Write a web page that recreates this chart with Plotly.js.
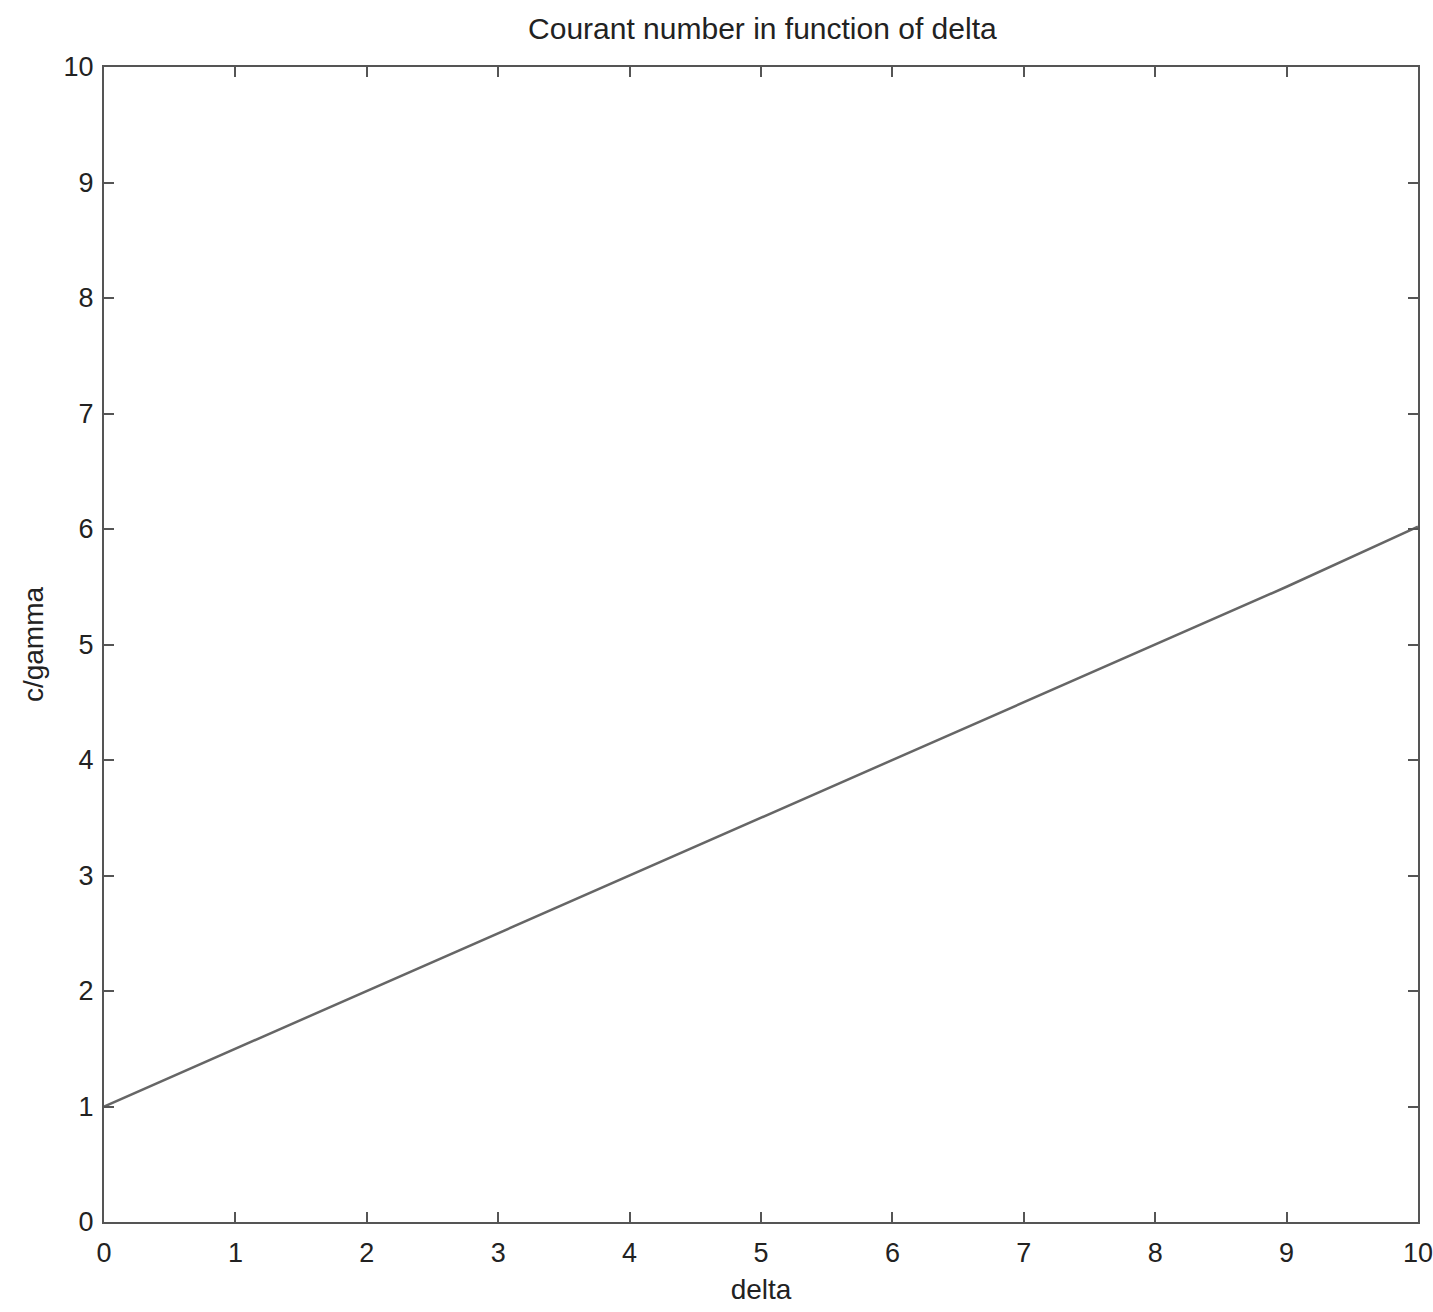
<!DOCTYPE html>
<html>
<head>
<meta charset="utf-8">
<script src="https://cdn.plot.ly/plotly-3.0.1.min.js"></script>
<style>html,body{margin:0;padding:0;background:#fff;overflow:hidden;}#chart{width:1433px;height:1312px;}</style>
</head>
<body>
<div id="chart"></div>
<script>
const delta = [0, 1, 2, 3, 4, 5, 6, 7, 8, 9, 10];
const cOverGamma = [1.0, 1.5, 2.0, 2.5, 3.0, 3.5, 4.0, 4.5, 5.0, 5.5, 6.02];
const xTicks = [0, 1, 2, 3, 4, 5, 6, 7, 8, 9, 10];
const yTicks = [0, 1, 2, 3, 4, 5, 6, 7, 8, 9, 10];

const fontFam = '"Liberation Sans", Arial, sans-serif';
const axisCommon = {
  showgrid: false, zeroline: false, showline: true, mirror: 'ticks',
  linecolor: '#555', linewidth: 2, ticks: 'inside', ticklen: 10,
  tickcolor: '#555', tickwidth: 2, tickmode: 'array',
  ticklabeloverflow: 'allow',
  tickfont: {family: fontFam, size: 27, color: '#222'}
};

Plotly.newPlot('chart', [{
  x: delta, y: cOverGamma, type: 'scatter', mode: 'lines',
  line: {color: '#666', width: 2.5}
}], {
  width: 1433, height: 1312,
  margin: {l: 104, r: 15, t: 67, b: 90},
  paper_bgcolor: '#fff', plot_bgcolor: '#fff',
  showlegend: false,
  title: {text: 'Courant number in function of delta', x: 0.532, xanchor: 'center', y: 0.978, yanchor: 'middle',
          font: {family: fontFam, size: 30, color: '#222'}},
  xaxis: Object.assign({}, axisCommon, {
    range: [0, 10], tickvals: xTicks, ticktext: xTicks.map(String), ticklabelstandoff: 6,
    title: {text: 'delta', standoff: 12, font: {family: fontFam, size: 28, color: '#222'}}
  }),
  yaxis: Object.assign({}, axisCommon, {
    range: [0, 10], tickvals: yTicks, ticktext: yTicks.map(String), ticklabelstandoff: 3,
    title: {text: 'c/gamma', standoff: 12, font: {family: fontFam, size: 28, color: '#222'}}
  })
}, {displayModeBar: false, staticPlot: true});
</script>
</body>
</html>
